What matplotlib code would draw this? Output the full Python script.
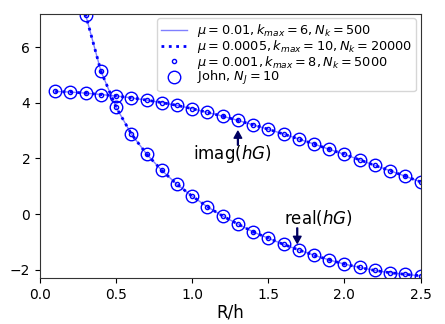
import matplotlib
matplotlib.use("Agg")
import matplotlib.pyplot as plt

r_h = [0.1, 0.2, 0.3, 0.4, 0.5, 0.6, 0.7, 0.8, 0.9, 1.0, 1.1, 1.2, 1.3,
       1.4, 1.5, 1.6, 1.7, 1.8, 1.9, 2.0, 2.1, 2.2, 2.3, 2.4, 2.5]

imag_hg = [4.41, 4.39, 4.35, 4.30, 4.25, 4.18, 4.10, 4.01, 3.91, 3.79, 3.66,
           3.52, 3.37, 3.21, 3.05, 2.88, 2.70, 2.52, 2.33, 2.15, 1.95, 1.75,
           1.56, 1.36, 1.16]

real_hg = [20.0, 10.8, 7.16, 5.14, 3.84, 2.88, 2.16, 1.57, 1.07, 0.64, 0.26,
           -0.07, -0.36, -0.64, -0.87, -1.09, -1.29, -1.48, -1.65, -1.80,
           -1.92, -2.03, -2.11, -2.17, -2.22]

labels = [r'$\mu=0.01, k_{max}=6, N_k=500$',
          r'$\mu=0.0005, k_{max}=10, N_k=20000$',
          r'$\mu=0.001, k_{max}=8, N_k=5000$',
          r'John, $N_J=10$']

fig, ax = plt.subplots(figsize=(4.45, 3.24), dpi=100)

for i, ys in enumerate([real_hg, imag_hg]):
    ax.plot(r_h, ys, '-', color='blue', alpha=0.5, lw=1,
            label=labels[0] if i == 0 else None)
    ax.plot(r_h, ys, ':', color='blue', lw=2,
            label=labels[1] if i == 0 else None)
    ax.plot(r_h, ys, 'o', color='blue', mfc='none', ms=3, mew=1,
            label=labels[2] if i == 0 else None)
    ax.plot(r_h, ys, 'o', color='blue', mfc='none', ms=9, mew=1,
            label=labels[3] if i == 0 else None)

arrow = dict(facecolor='#000060', edgecolor='#000060', width=0.6,
             headwidth=5.5, headlength=5, shrink=0)
ax.annotate('', xy=(1.3, 2.98), xytext=(1.3, 2.48), arrowprops=arrow)
ax.text(1.26, 2.17, r'imag($hG$)', fontsize=12, ha='center', va='center')
ax.annotate('', xy=(1.69, -1.05), xytext=(1.69, -0.5), arrowprops=arrow)
ax.text(1.83, -0.15, r'real($hG$)', fontsize=12, ha='center', va='center')

ax.set_xlim(0, 2.5)
ax.set_ylim(-2.3, 7.2)
ax.set_xticks([0.0, 0.5, 1.0, 1.5, 2.0, 2.5])
ax.set_yticks([-2, 0, 2, 4, 6])
ax.tick_params(labelsize=10)
for s in ax.spines.values():
    s.set_color('#333333')
ax.set_xlabel('R/h', fontsize=12, labelpad=1)
ax.legend(loc='upper right', fontsize=9.3, handlelength=2,
          borderaxespad=0.35, labelspacing=-0.1, borderpad=0.3)

fig.subplots_adjust(left=0.09, right=0.945, top=0.957, bottom=0.142)
fig.savefig('out.png', dpi=100)
